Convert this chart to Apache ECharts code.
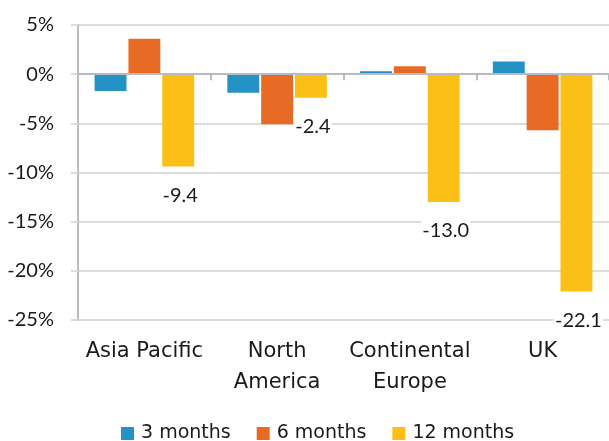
<!DOCTYPE html>
<html>
<head>
<meta charset="utf-8">
<script src="https://cdn.jsdelivr.net/npm/echarts@6/dist/echarts.min.js"></script>
<style>html,body{margin:0;padding:0;background:#fff}#c{width:609px;height:441px}</style>
</head>
<body>
<div id="c"></div>
<script>
const categories = ['Asia Pacific', 'North\nAmerica', 'Continental\nEurope', 'UK'];
const seriesNames = ['3 months', '6 months', '12 months'];
const threeMonths = [-1.7, -1.9, 0.3, 1.3];
const sixMonths = [3.6, -5.1, 0.8, -5.7];
const twelveMonths = [-9.4, -2.4, -13.0, -22.1];
const colors = ['#2592C6', '#E76B25', '#FBBF16'];

const chart = echarts.init(document.getElementById('c'));
const numFont = 'Lato';
const txtFont = 'DejaVu Sans';
chart.setOption({
  animation: false,
  color: colors,
  grid: { left: 78, right: 0, top: 25, bottom: 121, containLabel: false },
  legend: {
    left: 121, top: 424, padding: 0, itemWidth: 13, itemHeight: 13, itemGap: 26,
    icon: 'rect',
    textStyle: { fontFamily: txtFont, fontSize: 19, color: '#1a1a1a', padding: [0,0,0,2] },
    data: seriesNames
  },
  xAxis: [
    {
      type: 'category', data: categories, position: 'bottom',
      axisLine: { show: false, onZero: false }, axisTick: { show: false },
      axisLabel: { fontFamily: txtFont, fontSize: 21, color: '#1a1a1a', lineHeight: 31, margin: 16, interval: 0 },
      splitLine: { show: false }
    },
    {
      type: 'category', data: categories, position: 'bottom', z: 10,
      axisLine: { show: true, onZero: true, lineStyle: { color: '#b8bbc2', width: 2 } },
      axisTick: { show: true, length: 6, lineStyle: { color: '#b8bbc2', width: 2 } },
      axisLabel: { show: false }, splitLine: { show: false }
    }
  ],
  yAxis: {
    type: 'value', min: -25, max: 5, interval: 5,
    axisLine: { show: true, lineStyle: { color: '#b8bbc2', width: 2 } },
    axisTick: { show: true, length: 7, lineStyle: { color: '#dcdce0', width: 2 } },
    axisLabel: { formatter: '{value}%', fontFamily: numFont, fontSize: 20, color: '#1a1a1a', margin: 24 },
    splitLine: { show: true, lineStyle: { color: '#dcdce0', width: 2 } }
  },
  series: [
    { name: seriesNames[0], type: 'bar', data: threeMonths, barGap: '6%', barCategoryGap: '25%' },
    { name: seriesNames[1], type: 'bar', data: sixMonths, barGap: '6%', barCategoryGap: '25%' },
    { name: seriesNames[2], type: 'bar', data: twelveMonths, barGap: '6%', barCategoryGap: '25%',
      label: { show: true, position: 'bottom', distance: 18, offset: [2, -1], formatter: p => p.value.toFixed(1),
        fontFamily: numFont, fontSize: 20, color: '#1a1a1a', backgroundColor: '#fff', padding: [2, 1] } }
  ]
});
</script>
</body>
</html>
